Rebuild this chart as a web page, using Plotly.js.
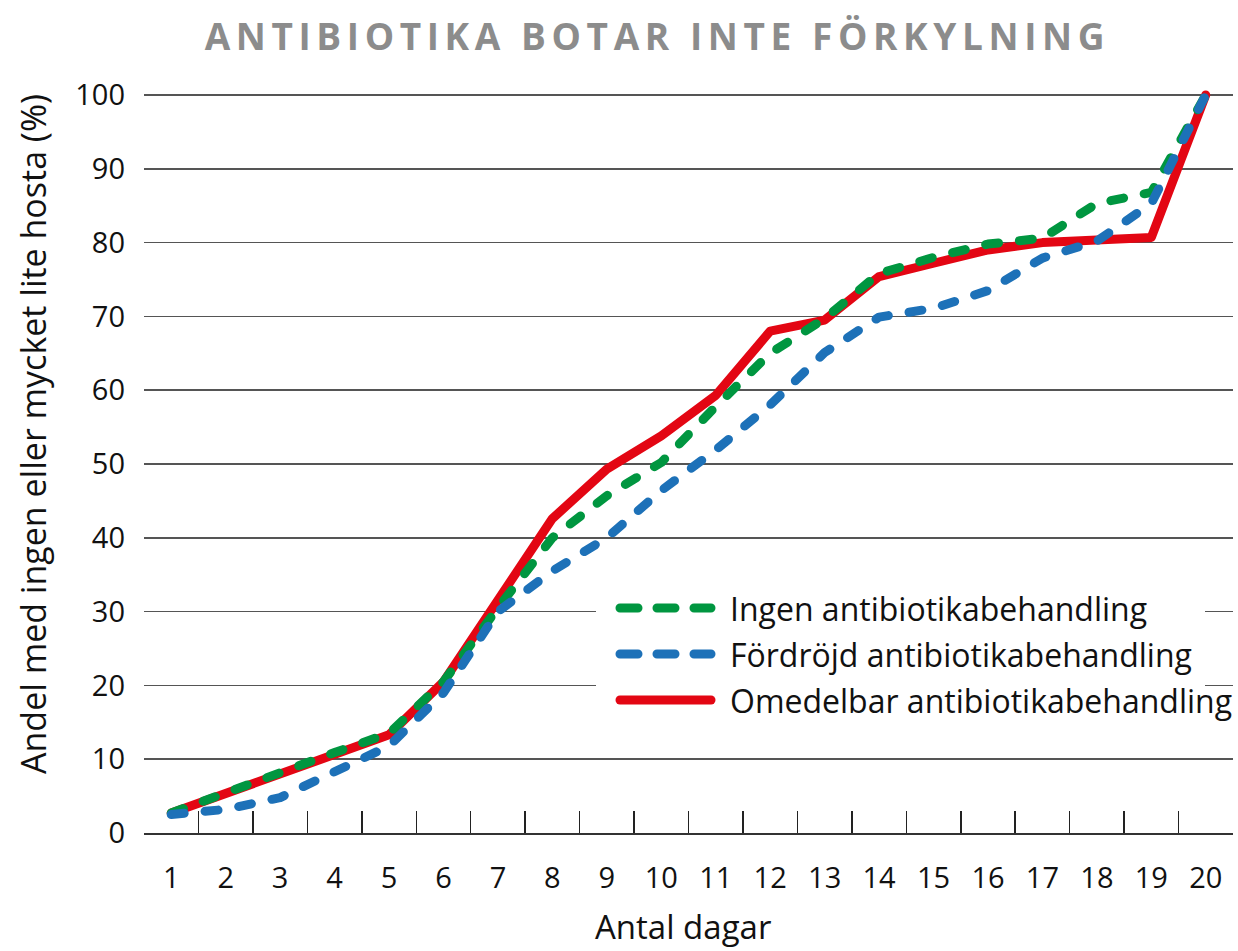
<!DOCTYPE html>
<html>
<head>
<meta charset="utf-8">
<script src="https://cdn.plot.ly/plotly-3.0.1.min.js"></script>
<style>
  html, body { margin: 0; padding: 0; background: #fff; }
  #chart { width: 1238px; height: 951px; }
  .scatterlayer .js-line { stroke-linecap: round; stroke-linejoin: round; }
  .shapelayer path { stroke-linecap: round; }
  .gtitle { letter-spacing: 5.6px; }
</style>
</head>
<body>
<div id="chart"></div>
<script>
// ---- Data ----
const days = ['1','2','3','4','5','6','7','8','9','10','11','12','13','14','15','16','17','18','19','20'];
const ingen = [2.7, 5.5, 8.2, 10.9, 13.5, 20.5, 30.5, 40.0, 45.7, 50.2, 57.8, 65.0, 69.7, 75.8, 78.0, 79.8, 80.6, 85.3, 86.8, 100];
const fordrojd = [2.5, 3.2, 4.8, 8.3, 11.8, 19.0, 30.0, 35.5, 40.0, 46.4, 51.9, 58.0, 65.1, 69.9, 71.1, 73.5, 77.9, 80.2, 85.3, 100];
const omedelbar = [2.7, 5.4, 8.0, 10.7, 13.3, 20.5, 31.5, 42.6, 49.3, 53.8, 59.3, 68.0, 69.5, 75.4, 77.2, 79.0, 80.0, 80.5, 80.7, 100];
const yTicks = [0, 10, 20, 30, 40, 50, 60, 70, 80, 90, 100];
const seriesNames = ['Ingen antibiotikabehandling', 'Fördröjd antibiotikabehandling', 'Omedelbar antibiotikabehandling'];
const titleText = 'ANTIBIOTIKA BOTAR INTE FÖRKYLNING';
const xTitle = 'Antal dagar';
const yTitle = 'Andel med ingen eller mycket lite hosta (%)';

// ---- Styles ----
const RED = '#e30613', GREEN = '#009640', BLUE = '#1d71b8';
const FONT = 'Open Sans, Noto Sans, sans-serif';
const W = 1238, H = 951;
const M = {l: 144, r: 5, t: 80, b: 118};
const dashPat = '13px,21px';

function px(x, y) {
  return {x: (x - M.l) / (W - M.l - M.r), y: (H - M.b - y) / (H - M.t - M.b)};
}

const traces = [
  {x: days, y: omedelbar, name: seriesNames[2], type: 'scatter', mode: 'lines',
   line: {color: RED, width: 9}, showlegend: false, hoverinfo: 'skip'},
  {x: days, y: ingen, name: seriesNames[0], type: 'scatter', mode: 'lines',
   line: {color: GREEN, width: 9, dash: dashPat}, showlegend: false, hoverinfo: 'skip'},
  {x: days, y: fordrojd, name: seriesNames[1], type: 'scatter', mode: 'lines',
   line: {color: BLUE, width: 9, dash: dashPat}, showlegend: false, hoverinfo: 'skip'}
];

// manual legend (decoration)
const legColors = [GREEN, BLUE, RED];
const legDash = ['18px,19px', '18px,19px', 'solid'];
const legRows = [608, 654, 700];
const shapes = [];
const annotations = [];
const b0 = px(596, 585), b1 = px(1205, 724);
shapes.push({type: 'rect', xref: 'paper', yref: 'paper', x0: b0.x, x1: b1.x, y0: b1.y, y1: b0.y,
  fillcolor: '#ffffff', line: {width: 0}, layer: 'above'});
legRows.forEach((ry, i) => {
  const a = px(620, ry), c = px(711, ry);
  shapes.push({type: 'line', xref: 'paper', yref: 'paper', x0: a.x, x1: c.x, y0: a.y, y1: a.y,
    line: {color: legColors[i], width: 9, dash: legDash[i]}, layer: 'above'});
  const t = px(728, ry);
  annotations.push({xref: 'paper', yref: 'paper', x: t.x, y: t.y, xanchor: 'left', yanchor: 'middle',
    text: seriesNames[i], showarrow: false, font: {family: FONT, size: 32, color: '#111'}});
});
// axis titles as annotations
const yt = px(33, 434);
annotations.push({xref: 'paper', yref: 'paper', x: yt.x, y: yt.y, xanchor: 'center', yanchor: 'middle',
  textangle: -90, text: yTitle, showarrow: false, font: {family: FONT, size: 34, color: '#111'}});
const xt = px(683, 927);
annotations.push({xref: 'paper', yref: 'paper', x: xt.x, y: xt.y, xanchor: 'center', yanchor: 'middle',
  text: xTitle, showarrow: false, font: {family: FONT, size: 33, color: '#111'}});

const layout = {
  width: W, height: H,
  margin: M,
  paper_bgcolor: '#fff', plot_bgcolor: '#fff',
  font: {family: FONT, color: '#111'},
  title: {text: '<b>' + titleText + '</b>', x: 0.531, xanchor: 'center', y: 1 - 37 / H, yanchor: 'middle',
          font: {family: FONT, size: 37, color: '#8c8c8c'}},
  xaxis: {
    type: 'category', categoryorder: 'array', categoryarray: days,
    range: [-0.5, 19.5], fixedrange: true,
    tickson: 'boundaries', ticks: 'inside', ticklen: 22, tickwidth: 1.5, tickcolor: '#222',
    showline: true, linecolor: '#333', linewidth: 2,
    showgrid: false, zeroline: false,
    tickfont: {family: FONT, size: 29, color: '#111'},
    ticklabelstandoff: 18
  },
  yaxis: {
    range: [0, 102.03], fixedrange: true,
    tickmode: 'array', tickvals: yTicks, ticktext: yTicks.map(String),
    showgrid: true, gridcolor: '#555', gridwidth: 1.6,
    zeroline: false, showline: false, ticks: '',
    tickfont: {family: FONT, size: 29, color: '#111'},
    ticklabelstandoff: 18
  },
  shapes: shapes,
  annotations: annotations,
  showlegend: false
};

Plotly.newPlot('chart', traces, layout, {staticPlot: true, displayModeBar: false});
</script>
</body>
</html>
